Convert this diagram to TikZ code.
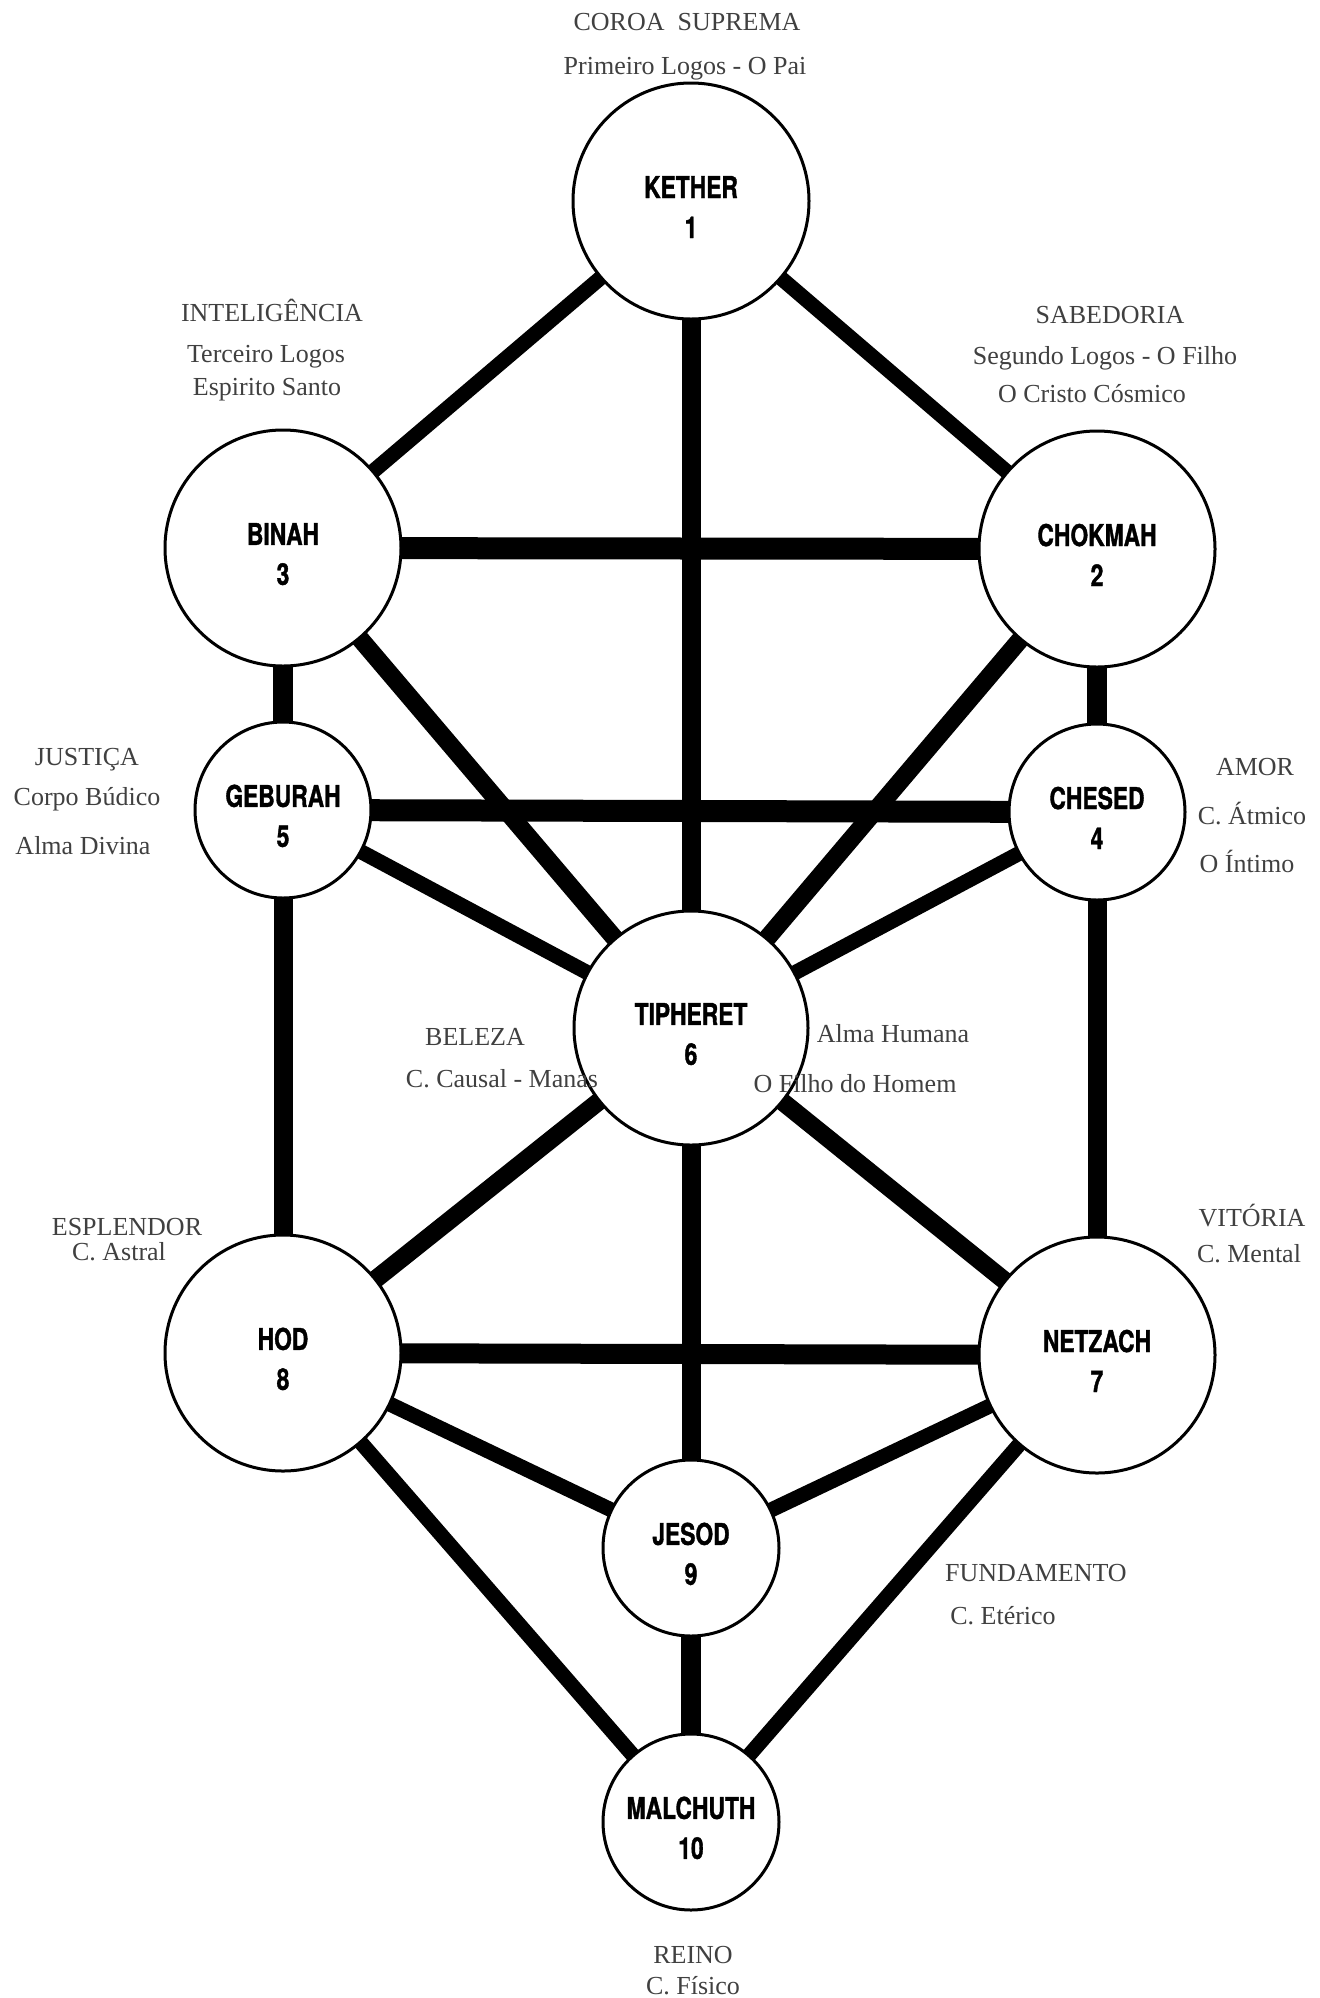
\documentclass[tikz,border=0pt]{standalone}
\usepackage{fontspec}
\setmainfont{Liberation Serif}
\newfontfamily\sephfont[FakeStretch=0.76, BoldFeatures={FakeBold=1.2}]{TeX Gyre Heros}
\usetikzlibrary{positioning, backgrounds}

% name and number inside a circle, sitting a little low
\newcommand{\sname}[2]{\rule{0pt}{17pt}#1\\#2}

\begin{document}
\begin{tikzpicture}[
    x=0.5pt, y=-0.5pt,
    % Node styles
    sephirah/.style={
        circle,
        draw=black,
        line width=1.5pt,
        fill=white,
        inner sep=0pt,
        minimum size=#1,
        align=center,
        font=\sephfont\bfseries\fontsize{15}{20}\selectfont
    },
    sephirah/.default=118pt,
    channel/.style={
        line width=#1,
        draw=black,
        shorten <=-2pt,
        shorten >=-2pt
    },
    channel/.default=7.5pt,
    note/.style={
        anchor=base,
        inner sep=0pt,
        font=\fontsize{13}{15}\selectfont,
        text=black!75
    }
]

\useasboundingbox (0,0) rectangle (1320,1998);

% Column positions
\def\lcol{283}
\def\mcol{691}
\def\rcol{1097}

% The ten sephiroth
\node[sephirah] (kether) at (\mcol,201) {\sname{KETHER}{1}};
\node[sephirah] (chokmah) at (\rcol,549) {\sname{CHOKMAH}{2}};
\node[sephirah] (binah) at (\lcol,548) {\sname{BINAH}{3}};
\node[sephirah=88pt] (chesed) at (\rcol,812) {\sname{CHESED}{4}};
\node[sephirah=88pt] (geburah) at (\lcol,810) {\sname{GEBURAH}{5}};
\node[sephirah=117pt] (tiphereth) at (\mcol,1028) {\sname{TIPHERET}{6}};
\node[sephirah] (netzach) at (\rcol,1355) {\sname{NETZACH}{7}};
\node[sephirah] (hod) at (\lcol,1353) {\sname{HOD}{8}};
\node[sephirah=88pt] (jesod) at (\mcol,1548) {\sname{JESOD}{9}};
\node[sephirah=88pt] (malchuth) at (\mcol,1822) {\sname{MALCHUTH}{10}};

% Paths
\begin{scope}[on background layer]
    \draw[channel=9.5pt] (kether) -- (tiphereth);
    \draw[channel] (kether) -- (binah);
    \draw[channel] (kether) -- (chokmah);
    \draw[channel=11pt] (binah) -- (chokmah);
    \draw[channel=10pt] (binah) -- (geburah);
    \draw[channel=9pt] (binah) -- (tiphereth);
    \draw[channel=10pt] (chokmah) -- (chesed);
    \draw[channel=9pt] (chokmah) -- (tiphereth);
    \draw[channel=11pt] (geburah) -- (chesed);
    \draw[channel] (geburah) -- (tiphereth);
    \draw[channel=9.5pt] (geburah) -- (hod);
    \draw[channel] (chesed) -- (tiphereth);
    \draw[channel=9.5pt] (chesed) -- (netzach);
    \draw[channel=9pt] (tiphereth) -- (hod);
    \draw[channel=9pt] (tiphereth) -- (netzach);
    \draw[channel=9.5pt] (tiphereth) -- (jesod);
    \draw[channel=10pt] (hod) -- (netzach);
    \draw[channel] (hod) -- (jesod);
    \draw[channel] (hod) -- (malchuth);
    \draw[channel] (netzach) -- (jesod);
    \draw[channel] (netzach) -- (malchuth);
    \draw[channel=10pt] (jesod) -- (malchuth);
\end{scope}

% Names and attributes
\node[note] (coroa) at (687,30) {COROA\ \ SUPREMA};
\node[note] (pai) at (685,74) {Primeiro Logos - O Pai};

\node[note] (intel) at (272,321) {INTELIGÊNCIA};
\node[note] (terceiro) at (266,362) {Terceiro Logos};
\node[note] (santo) at (267,395) {Espirito Santo};

\node[note] (sabedoria) at (1110,323) {SABEDORIA};
\node[note] (segundo) at (1105,364) {Segundo Logos - O Filho};
\node[note] (cristo) at (1092,402) {O Cristo Cósmico};

\node[note] (justica) at (87,765) {JUSTIÇA};
\node[note] (budico) at (87,805) {Corpo Búdico};
\node[note] (divina) at (83,854) {Alma Divina};

\node[note] (amor) at (1255,775) {AMOR};
\node[note] (atmico) at (1252,824) {C. Átmico};
\node[note] (intimo) at (1247,872) {O Íntimo};

\node[note] (beleza) at (475,1045) {BELEZA};
\node[note] (causal) at (502,1087) {C. Causal - Manas};
\node[note] (humana) at (893,1042) {Alma Humana};
\node[note] (homem) at (855,1092) {O Filho do Homem};

\node[note] (esplendor) at (127,1235) {ESPLENDOR};
\node[note] (astral) at (119,1260) {C. Astral};

\node[note] (vitoria) at (1252,1226) {VITÓRIA};
\node[note] (mental) at (1249,1262) {C. Mental};

\node[note] (fundamento) at (1036,1581) {FUNDAMENTO};
\node[note] (eterico) at (1003,1624) {C. Etérico};

\node[note] (reino) at (693,1963) {REINO};
\node[note] (fisico) at (693,1994) {C. Físico};

\end{tikzpicture}
\end{document}
